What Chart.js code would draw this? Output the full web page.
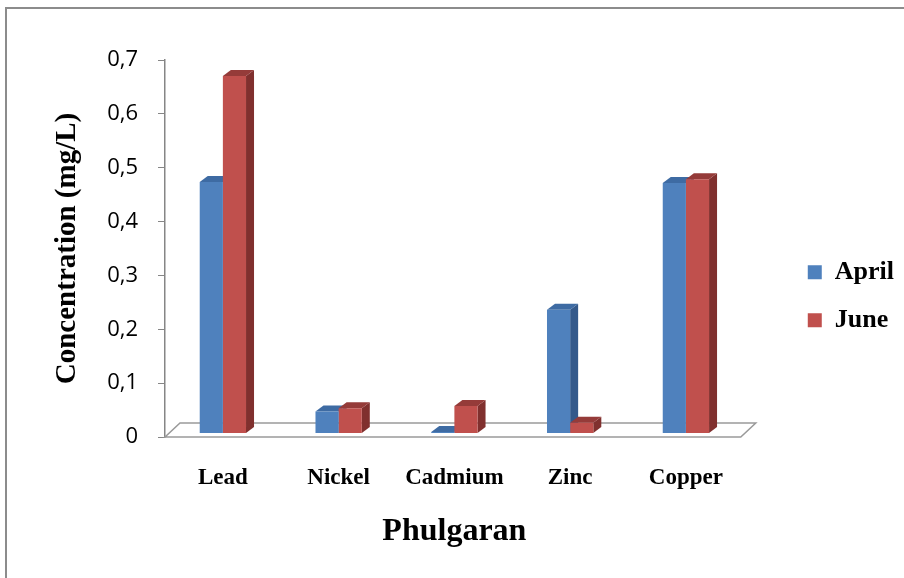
<!DOCTYPE html>
<html>
<head>
<meta charset="utf-8">
<script src="https://cdn.jsdelivr.net/npm/chart.js@4.4.0/dist/chart.umd.min.js"></script>
<style>
    html, body { margin: 0; padding: 0; background: #fff; }
    #wrap { width: 904px; height: 578px; }
</style>
</head>
<body>
<div id="wrap"><canvas id="chart" width="904" height="578"></canvas></div>
<script>
// Chart values
const metals = ['Lead', 'Nickel', 'Cadmium', 'Zinc', 'Copper'];
const april = [0.466, 0.040, 0.002, 0.229, 0.464];
const june = [0.663, 0.046, 0.050, 0.019, 0.471];
const yTickLabels = ['0', '0,1', '0,2', '0,3', '0,4', '0,5', '0,6', '0,7'];

const serif = "'Liberation Serif', 'Times New Roman', serif";

// Frame lines round the picture (top and left only, as in the original)
const framePlugin = {
    id: 'frame',
    beforeDraw(chart) {
        const ctx = chart.ctx;
        ctx.save();
        ctx.fillStyle = '#fff';
        ctx.fillRect(0, 0, chart.width, chart.height);
        ctx.strokeStyle = '#8c8c8c';
        ctx.lineWidth = 2;
        ctx.beginPath();
        ctx.moveTo(6, chart.height);
        ctx.lineTo(6, 8);
        ctx.lineTo(chart.width, 8);
        ctx.stroke();
        ctx.restore();
    }
};

// Floor and the depth faces of each column
const depthPlugin = {
    id: 'depth',
    beforeDatasetsDraw(chart) {
        const ctx = chart.ctx;
        const area = chart.chartArea;
        const zero = chart.scales.y.getPixelForValue(0);
        const dx = 8, dy = 6;

        ctx.save();
        // floor
        ctx.strokeStyle = '#9a9a9a';
        ctx.lineWidth = 1.5;
        ctx.fillStyle = '#fff';
        ctx.beginPath();
        ctx.moveTo(area.left, zero);
        ctx.lineTo(area.right - 3, zero);
        ctx.lineTo(area.right + 12, zero - 14);
        ctx.lineTo(area.left + 15, zero - 14);
        ctx.closePath();
        ctx.fill();
        ctx.stroke();

        chart.data.datasets.forEach((ds, i) => {
            const meta = chart.getDatasetMeta(i);
            meta.data.forEach(bar => {
                const {x, y, base, width} = bar.getProps(['x', 'y', 'base', 'width'], true);
                const l = x - width / 2, r = x + width / 2;
                ctx.fillStyle = ds.sideColor;
                ctx.beginPath();
                ctx.moveTo(r, y);
                ctx.lineTo(r + dx, y - dy);
                ctx.lineTo(r + dx, base - dy);
                ctx.lineTo(r, base);
                ctx.closePath();
                ctx.fill();
                ctx.fillStyle = ds.topColor;
                ctx.beginPath();
                ctx.moveTo(l, y);
                ctx.lineTo(l + dx, y - dy);
                ctx.lineTo(r + dx, y - dy);
                ctx.lineTo(r, y);
                ctx.closePath();
                ctx.fill();
            });
        });
        ctx.restore();
    }
};

const ctx = document.getElementById('chart').getContext('2d');

new Chart(ctx, {
    type: 'bar',
    data: {
        labels: metals,
        datasets: [{
            label: 'April',
            data: april,
            yAxisID: 'yb',
            backgroundColor: '#4f81bd',
            sideColor: '#34598a',
            topColor: '#3e6ba3',
            categoryPercentage: 0.4,
            barPercentage: 1.0
        }, {
            label: 'June',
            data: june,
            yAxisID: 'yb',
            backgroundColor: '#c0504d',
            sideColor: '#80302e',
            topColor: '#953b39',
            categoryPercentage: 0.4,
            barPercentage: 1.0
        }]
    },
    options: {
        responsive: false,
        animation: false,
        layout: { padding: 0 },
        scales: {
            x: {
                grid: { display: false, drawTicks: false },
                border: { display: false },
                ticks: {
                    color: '#000',
                    padding: 27,
                    font: { family: serif, size: 23, weight: 'bold' }
                },
                title: {
                    display: true,
                    text: 'Phulgaran',
                    color: '#000',
                    font: { family: serif, size: 32, weight: 'bold' },
                    padding: { top: 0, bottom: 27 }
                },
                afterFit: s => { s.height = 141; }
            },
            // spacer on top so the plot starts at the 0,7 line
            x2: {
                type: 'category',
                position: 'top',
                display: true,
                grid: { display: false },
                border: { display: false },
                ticks: { display: false },
                afterFit: s => { s.height = 60; }
            },
            y: {
                min: 0,
                max: 0.7,
                ticks: {
                    stepSize: 0.1,
                    color: '#000',
                    padding: 20,
                    font: { family: "'Open Sans', sans-serif", size: 22 },
                    callback: (v, i) => yTickLabels[i]
                },
                grid: {
                    drawOnChartArea: false,
                    drawTicks: true,
                    tickLength: 7,
                    color: '#868686'
                },
                border: { display: true, color: '#868686', width: 1.5 },
                title: {
                    display: true,
                    text: 'Concentration (mg/L)',
                    color: '#000',
                    font: { family: serif, size: 29, weight: 'bold' },
                    padding: { top: 50, bottom: 0 }
                },
                afterFit: s => { s.width = 165; }
            },
            // same 0-0.7 range, set a few pixels back (columns stand in the middle of the floor)
            yb: {
                type: 'linear',
                display: false,
                min: -0.0074,
                max: 0.6926
            },
            // spacer between the plot and the legend
            y2: {
                type: 'linear',
                position: 'right',
                display: true,
                grid: { display: false },
                border: { display: false },
                ticks: { display: false },
                afterFit: s => { s.width = 42; }
            }
        },
        plugins: {
            legend: {
                position: 'right',
                labels: {
                    color: '#000',
                    boxWidth: 14,
                    boxHeight: 14,
                    padding: 22,
                    font: { family: serif, size: 26, weight: 'bold' }
                },
                title: { display: true, text: ' ', font: { size: 2 }, padding: 6 }
            },
            tooltip: { enabled: false }
        }
    },
    plugins: [framePlugin, depthPlugin]
});
</script>
</body>
</html>
